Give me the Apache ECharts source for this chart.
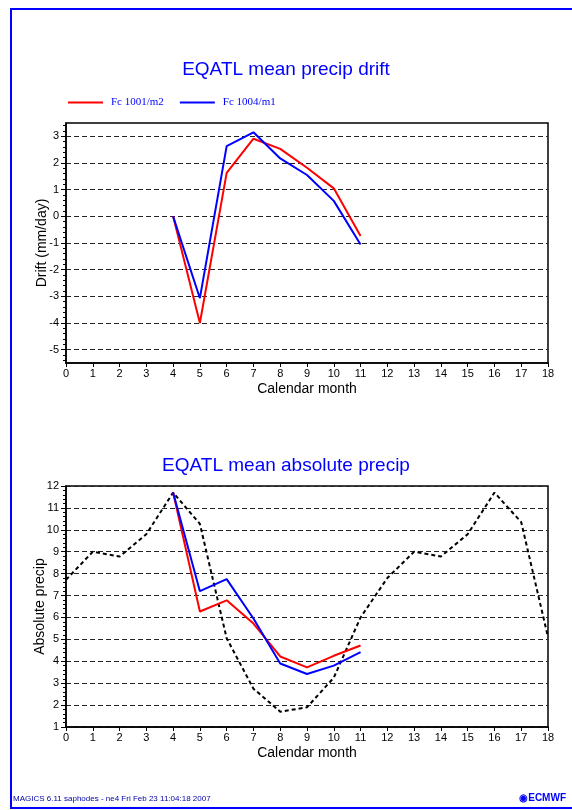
<!DOCTYPE html>
<html>
<head>
<meta charset="utf-8">
<script src="https://cdn.jsdelivr.net/npm/echarts@6/dist/echarts.min.js"></script>
<style>
html,body{margin:0;padding:0;background:#fff;}
#chart{width:572px;height:810px;}
</style>
</head>
<body>
<div id="chart"></div>
<script>
// ---- Data ----
const driftMonths = [4, 5, 6, 7, 8, 9, 10, 11];
const driftRed = [0, -4.0, 1.63, 2.91, 2.53, 1.82, 1.05, -0.74];
const driftBlue = [0, -3.07, 2.63, 3.15, 2.17, 1.55, 0.58, -1.06];

const climMonths = [0, 1, 2, 3, 4, 5, 6, 7, 8, 9, 10, 11, 12, 13, 14, 15, 16, 17, 18];
const climBlack = [7.72, 9.0, 8.78, 9.8, 11.7, 10.27, 5.05, 2.75, 1.7, 1.9, 3.25, 6.0, 7.8, 9.0, 8.78, 9.8, 11.7, 10.35, 5.1];
const absMonths = [4, 5, 6, 7, 8, 9, 10, 11];
const absRed = [11.7, 6.27, 6.78, 5.72, 4.22, 3.72, 4.25, 4.72];
const absBlue = [11.7, 7.2, 7.75, 5.95, 3.9, 3.42, 3.8, 4.42];

const driftTicks = [-5, -4, -3, -2, -1, 0, 1, 2, 3];
const driftMinorTicks = [-5.4, -5.2, -4.8, -4.6, -4.4, -4.2, -3.8, -3.6, -3.4, -3.2, -2.8, -2.6, -2.4, -2.2,
  -1.8, -1.6, -1.4, -1.2, -0.8, -0.6, -0.4, -0.2, 0.2, 0.4, 0.6, 0.8, 1.2, 1.4, 1.6, 1.8, 2.2, 2.4, 2.6, 2.8, 3.2, 3.4];
const seriesNames = ['Fc 1001/m2', 'Fc 1004/m1'];
const title1 = 'EQATL mean precip drift';
const title2 = 'EQATL mean absolute precip';
const xName = 'Calendar month';
const yName1 = 'Drift (mm/day)';
const yName2 = 'Absolute precip';
const footer = 'MAGICS 6.11 saphodes - ne4 Fri Feb 23 11:04:18 2007';

function pairs(xs, ys) { return xs.map((x, i) => [x, ys[i]]); }

const SANS = '"Liberation Sans", Arial, Helvetica, sans-serif';
const gridLine = { show: true, lineStyle: { color: '#222', width: 1, type: [5, 3] } };

function xAxisCfg(gridIndex) {
  return {
    type: 'value', gridIndex: gridIndex, min: 0, max: 18, interval: 1,
    name: xName, nameLocation: 'middle', nameGap: 19, nameMoveOverlap: false,
    nameTextStyle: { fontFamily: SANS, fontSize: 14, color: '#000' },
    axisLine: { show: true, onZero: false, lineStyle: { color: '#000', width: 1.5 } },
    axisTick: { show: true, inside: false, length: 4, lineStyle: { color: '#000' } },
    axisLabel: { fontFamily: SANS, fontSize: 11, color: '#000', margin: 5 },
    splitLine: { show: false }
  };
}

const chart = echarts.init(document.getElementById('chart'), null, { renderer: 'canvas' });

const option = {
  backgroundColor: '#fff',
  animation: false,
  title: [
    { text: title1, left: 'center', top: 55,
      textStyle: { fontFamily: SANS, fontSize: 19, fontWeight: 'normal', color: '#0000ff' } },
    { text: title2, left: 'center', top: 451,
      textStyle: { fontFamily: SANS, fontSize: 19, fontWeight: 'normal', color: '#0000ff' } }
  ],
  legend: {
    left: 68, top: 97, padding: 0, itemWidth: 35, itemHeight: 2, itemGap: 16, icon: 'rect',
    data: seriesNames,
    textStyle: { fontFamily: '"Liberation Serif", "DejaVu Serif", serif', fontSize: 11, color: '#0000ff', padding: [0, 0, 0, 3] }
  },
  grid: [
    { left: 66, top: 123, width: 482, height: 240, show: true, borderColor: '#000', borderWidth: 1.5, backgroundColor: 'transparent' },
    { left: 66, top: 486, width: 482, height: 241, show: true, borderColor: '#000', borderWidth: 1.5, backgroundColor: 'transparent' }
  ],
  xAxis: [xAxisCfg(0), xAxisCfg(1)],
  yAxis: [
    {
      type: 'value', gridIndex: 0, min: -5.5, max: 3.5,
      name: yName1, nameLocation: 'middle', nameGap: 17, nameRotate: 90, nameMoveOverlap: false,
      nameTextStyle: { fontFamily: SANS, fontSize: 14, color: '#000' },
      axisLine: { show: true, onZero: false, lineStyle: { color: '#000', width: 1.5 } },
      axisTick: { show: true, length: 5, customValues: driftTicks, lineStyle: { color: '#000' } },
      axisLabel: { fontFamily: SANS, fontSize: 11, color: '#000', margin: 7, customValues: driftTicks },
      splitLine: gridLine
    },
    {
      type: 'value', gridIndex: 1, min: 1, max: 12, interval: 1,
      name: yName2, nameLocation: 'middle', nameGap: 19, nameRotate: 90, nameMoveOverlap: false,
      nameTextStyle: { fontFamily: SANS, fontSize: 14, color: '#000' },
      axisLine: { show: true, onZero: false, lineStyle: { color: '#000', width: 1.5 } },
      axisTick: { show: true, length: 5, lineStyle: { color: '#000' } },
      minorTick: { show: true, splitNumber: 5, length: 3, lineStyle: { color: '#000' } },
      axisLabel: { fontFamily: SANS, fontSize: 11, color: '#000', margin: 7 },
      splitLine: gridLine
    },
    {
      // minor ticks for the drift axis (same scale, ticks only)
      type: 'value', gridIndex: 0, min: -5.5, max: 3.5, position: 'left', offset: 0,
      axisLine: { show: false },
      axisTick: { show: true, length: 3, customValues: driftMinorTicks, lineStyle: { color: '#000' } },
      axisLabel: { show: false },
      splitLine: { show: false }
    }
  ],
  series: [
    { name: seriesNames[0], type: 'line', xAxisIndex: 0, yAxisIndex: 0, data: pairs(driftMonths, driftRed),
      showSymbol: false, symbol: 'none', color: '#ff0000', lineStyle: { width: 2, color: '#ff0000' }, z: 3 },
    { name: seriesNames[1], type: 'line', xAxisIndex: 0, yAxisIndex: 0, data: pairs(driftMonths, driftBlue),
      showSymbol: false, symbol: 'none', color: '#0000ff', lineStyle: { width: 2, color: '#0000ff' }, z: 4 },
    { name: 'clim', type: 'line', xAxisIndex: 1, yAxisIndex: 1, data: pairs(climMonths, climBlack),
      showSymbol: false, symbol: 'none', color: '#000', lineStyle: { width: 2, color: '#000', type: [4, 3] }, z: 2 },
    { name: seriesNames[0] + ' abs', type: 'line', xAxisIndex: 1, yAxisIndex: 1, data: pairs(absMonths, absRed),
      showSymbol: false, symbol: 'none', color: '#ff0000', lineStyle: { width: 2, color: '#ff0000' }, z: 3 },
    { name: seriesNames[1] + ' abs', type: 'line', xAxisIndex: 1, yAxisIndex: 1, data: pairs(absMonths, absBlue),
      showSymbol: false, symbol: 'none', color: '#0000ff', lineStyle: { width: 2, color: '#0000ff' }, z: 4 }
  ],
  graphic: [
    { type: 'rect', silent: true, z: 100,
      shape: { x: 11, y: 9, width: 600, height: 799 },
      style: { fill: 'none', stroke: '#0000ff', lineWidth: 2 } },
    { type: 'text', left: 13, top: 795, z: 100,
      style: { text: footer, fontFamily: SANS, fontSize: 8, fill: '#0000aa' } },
    { type: 'text', right: 6, top: 793, z: 100,
      style: { text: '◉ECMWF', fontFamily: SANS, fontSize: 10, fontWeight: 'bold', fill: '#0000ff' } }
  ]
};
chart.setOption(option);
</script>
</body>
</html>
